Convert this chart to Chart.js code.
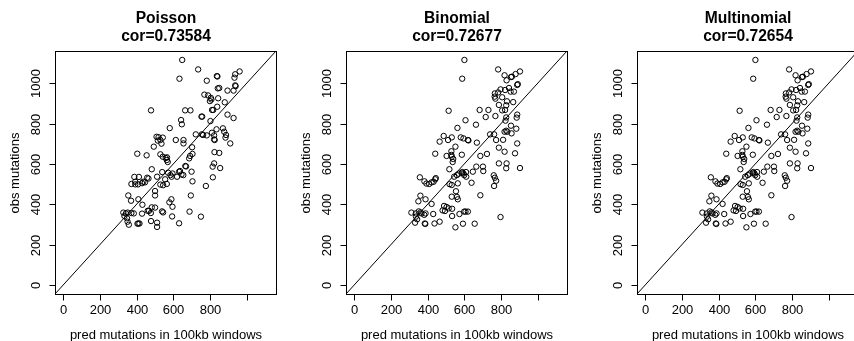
<!DOCTYPE html>
<html><head><meta charset="utf-8">
<script src="https://cdn.jsdelivr.net/npm/chart.js@4.4.1/dist/chart.umd.min.js"></script>
<style>
html,body{margin:0;padding:0;background:#fff;overflow:hidden;width:854px;height:341px;}
.panel{position:absolute;top:0;width:291px;height:341px;}
</style></head><body>
<div class="panel" style="left:0px"><canvas id="c0" width="291" height="341"></canvas></div>
<div class="panel" style="left:291px"><canvas id="c1" width="291" height="341"></canvas></div>
<div class="panel" style="left:582px"><canvas id="c2" width="291" height="341"></canvas></div>
<script>
const panelTitles = ["Poisson", "Binomial", "Multinomial"];
const corLabels = ["cor=0.73584", "cor=0.72677", "cor=0.72654"];
const xAxisTitle = "pred mutations in 100kb windows";
const yAxisTitle = "obs mutations";
const axisLimits = [-44.6, 1160.4];
const xTickValues = [0, 200, 400, 600, 800, 1000];
const xTickLabels = ["0", "200", "400", "600", "800", ""];
const yTickValues = [0, 200, 400, 600, 800, 1000];
const yTickLabels = ["0", "200", "400", "600", "800", "1000"];

const poissonPred = [649,736,634,962,938,934,838,841,783,938,940,896,929,843,851,790,805,770,808,800,845,881,840,812,818,479,665,694,643,647,754,758,803,896,929,581,836,871,878,783,763,756,723,811,823,823,826,888,885,911,509,520,543,530,516,494,536,614,656,656,703,404,455,530,543,559,566,565,570,687,692,705,825,851,823,815,856,816,778,666,670,632,637,645,655,572,585,591,621,705,700,556,565,512,530,388,413,393,458,465,437,446,430,393,372,408,483,355,370,432,410,501,501,579,596,590,696,689,751,328,342,352,372,385,334,348,351,358,410,416,405,430,461,468,483,478,501,479,512,512,539,545,594,632,540,545,596];
const poissonObs = [1116,1069,1023,1059,1045,1028,1036,1034,1013,990,986,964,964,975,977,940,928,944,920,912,926,906,884,868,868,866,866,866,818,797,835,835,813,845,828,778,772,777,760,742,744,747,747,755,742,722,719,744,731,702,735,733,731,719,716,686,701,719,719,702,683,651,643,648,636,630,633,620,610,628,640,650,659,655,603,587,580,534,491,590,588,562,565,548,545,557,545,537,537,514,562,524,501,537,498,536,536,499,532,528,512,509,505,512,501,499,574,444,418,398,425,466,444,410,388,425,444,364,339,359,355,359,357,355,342,331,314,299,305,305,304,354,368,368,385,357,384,317,309,288,365,360,340,306,560,495,553];

const binomialPred = [601,785,589,904,880,820,855,860,831,844,889,892,871,853,823,798,767,766,770,785,807,833,867,829,789,807,823,684,732,515,717,770,829,825,607,664,563,889,886,884,855,741,763,829,835,858,820,488,466,512,532,581,596,620,623,669,552,530,530,532,504,587,688,724,442,519,545,532,565,555,560,565,587,596,600,611,647,666,702,704,761,767,774,763,640,688,789,829,831,820,789,877,889,904,774,812,358,383,394,409,422,433,442,445,361,350,389,422,312,336,352,362,367,337,343,332,385,388,389,382,431,438,466,490,504,515,495,482,534,534,552,574,593,600,607,620,657,532,798,537,540,560,570,590,610,520];
const binomialObs = [1116,1069,1023,1059,1046,1040,1031,1033,1015,977,992,996,959,959,967,970,950,934,924,955,931,911,907,891,893,866,868,868,868,864,833,838,831,815,817,795,779,845,830,775,790,747,747,765,760,752,760,739,711,719,732,732,727,719,717,706,686,663,645,636,640,646,640,650,651,574,537,496,504,465,437,425,557,553,545,537,562,587,587,565,544,532,517,491,507,445,603,579,603,661,681,653,702,580,719,720,534,514,503,501,509,512,524,530,443,415,425,402,359,355,365,360,355,339,326,309,305,303,355,348,352,305,314,392,387,380,367,370,378,342,286,352,304,364,364,364,304,438,337,610,625,545,552,560,560,500];

const multinomialPred = [601,785,589,904,880,820,855,860,831,844,889,892,871,853,823,798,767,766,770,785,807,833,867,829,789,807,823,684,732,515,717,770,829,825,607,664,563,889,886,884,855,741,763,829,835,858,820,488,466,512,532,581,596,620,623,669,552,530,530,532,504,587,688,724,442,519,545,532,565,555,560,565,587,596,600,611,647,666,702,704,761,767,774,763,640,688,789,829,831,820,789,877,889,904,774,812,358,383,394,409,422,433,442,445,361,350,389,422,312,336,352,362,367,337,343,332,385,388,389,382,431,438,466,490,504,515,495,482,534,534,552,574,593,600,607,620,657,532,798,537,540,560,570,590,610,520];
const multinomialObs = [1116,1069,1023,1059,1046,1040,1031,1033,1015,977,992,996,959,959,967,970,950,934,924,955,931,911,907,891,893,866,868,868,868,864,833,838,831,815,817,795,779,845,830,775,790,747,747,765,760,752,760,739,711,719,732,732,727,719,717,706,686,663,645,636,640,646,640,650,651,574,537,496,504,465,437,425,557,553,545,537,562,587,587,565,544,532,517,491,507,445,603,579,603,661,681,653,702,580,719,720,534,514,503,501,509,512,524,530,443,415,425,402,359,355,365,360,355,339,326,309,305,303,355,348,352,305,314,392,387,380,367,370,378,342,286,352,304,364,364,364,304,438,337,610,625,545,552,560,560,500];

const panels = [
  {pred: poissonPred, obs: poissonObs},
  {pred: binomialPred, obs: binomialObs},
  {pred: multinomialPred, obs: multinomialObs}
];

const FONT = '"Liberation Sans", Arial, Helvetica, sans-serif';

const rAxes = {
  id: 'rAxes',
  afterDraw(chart, args, opts) {
    const {ctx, chartArea: a, scales: {x, y}} = chart;
    ctx.save();
    ctx.strokeStyle = '#000';
    ctx.fillStyle = '#000';
    ctx.lineWidth = 1;
    const L = Math.round(a.left) + 0.5, R = Math.round(a.right) + 0.5;
    const T = Math.round(a.top) + 0.5, B = Math.round(a.bottom) + 0.5;
    ctx.strokeRect(L, T, R - L, B - T);
    ctx.font = '13px ' + FONT;
    ctx.textAlign = 'center';
    ctx.textBaseline = 'middle';
    xTickValues.forEach((v, i) => {
      const px = Math.round(x.getPixelForValue(v)) + 0.5;
      ctx.beginPath(); ctx.moveTo(px, B); ctx.lineTo(px, B + 6); ctx.stroke();
      ctx.fillText(xTickLabels[i], px, B + 16);
    });
    yTickValues.forEach((v, i) => {
      const py = Math.round(y.getPixelForValue(v)) + 0.5;
      ctx.beginPath(); ctx.moveTo(L, py); ctx.lineTo(L - 6, py); ctx.stroke();
      ctx.save(); ctx.translate(L - 19, py); ctx.rotate(-Math.PI / 2);
      ctx.fillText(yTickLabels[i], 0, 0); ctx.restore();
    });
    ctx.fillText(xAxisTitle, (L + R) / 2, B + 41);
    ctx.save(); ctx.translate(15, (T + B) / 2); ctx.rotate(-Math.PI / 2);
    ctx.fillText(yAxisTitle, 0, 0); ctx.restore();
    ctx.font = 'bold 15.6px ' + FONT;
    ctx.fillText(opts.title, (L + R) / 2, 19);
    ctx.fillText(opts.sub, (L + R) / 2, 37);
    ctx.restore();
  }
};

panels.forEach((p, k) => {
  const pts = p.pred.map((v, i) => ({x: v, y: p.obs[i]}));
  new Chart(document.getElementById('c' + k), {
    type: 'scatter',
    data: {
      datasets: [
        {
          data: pts,
          pointStyle: 'circle',
          pointRadius: 2.7,
          borderWidth: 1,
          borderColor: '#000',
          backgroundColor: 'rgba(0,0,0,0)'
        },
        {
          type: 'line',
          data: [{x: axisLimits[0], y: axisLimits[0]}, {x: axisLimits[1], y: axisLimits[1]}],
          borderColor: '#000',
          borderWidth: 1,
          pointRadius: 0,
          fill: false
        }
      ]
    },
    options: {
      responsive: false,
      devicePixelRatio: 1,
      animation: false,
      events: [],
      layout: {padding: {left: 55, right: 15, top: 51, bottom: 47}},
      scales: {
        x: {type: 'linear', min: axisLimits[0], max: axisLimits[1], display: false},
        y: {type: 'linear', min: axisLimits[0], max: axisLimits[1], display: false}
      },
      plugins: {
        legend: {display: false},
        tooltip: {enabled: false},
        rAxes: {title: panelTitles[k], sub: corLabels[k]}
      }
    },
    plugins: [rAxes]
  });
});
</script>
</body></html>
